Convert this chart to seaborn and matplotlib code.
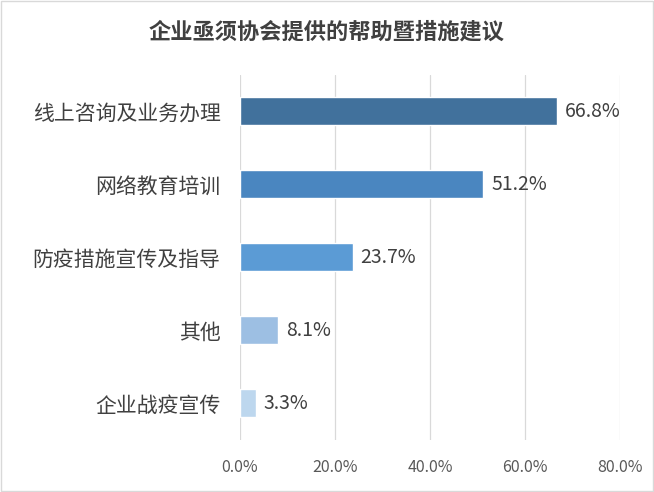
import matplotlib
matplotlib.use("Agg")
import matplotlib.pyplot as plt
import seaborn as sns
import pandas as pd

categories = ["线上咨询及业务办理", "网络教育培训", "防疫措施宣传及指导", "其他", "企业战疫宣传"]
values = [66.8, 51.2, 23.7, 8.1, 3.3]
colors = ["#41719C", "#4A86C0", "#5B9BD5", "#9DBFE3", "#BDD7EE"]
ticks = [0, 20, 40, 60, 80]

sns.set_theme(style="white")
plt.rcParams["font.family"] = ["Noto Sans CJK SC", "DejaVu Sans"]

df = pd.DataFrame({"cat": categories, "val": values})
fig = plt.figure(figsize=(6.54, 4.92), dpi=100)
ax = fig.add_axes([0.367, 0.106, 0.581, 0.742])
sns.barplot(data=df, x="val", y="cat", hue="cat", palette=colors, legend=False,
            width=0.38, saturation=1, ax=ax, zorder=2)

ax.set_xlim(0, 80)
ax.set_xticks(ticks)
ax.set_xticklabels([f"{t:.1f}%" for t in ticks], fontsize=11.5, color="#595959")
ax.tick_params(axis="y", labelsize=15, colors="#404040", length=0, pad=14)
ax.tick_params(axis="x", length=0, pad=14)
ax.grid(axis="x", color="#D9D9D9", lw=0.9, zorder=0)
for s in ax.spines.values():
    s.set_visible(False)
ax.set_xlabel("")
ax.set_ylabel("")

for i, v in enumerate(values):
    ax.text(v + 1.7, i, f"{v}%", va="center", ha="left", fontsize=14, color="#404040")

fig.text(0.5, 0.935, "企业亟须协会提供的帮助暨措施建议", ha="center", va="center",
         fontsize=16, fontweight="bold", color="#404040")
fig.patches.append(plt.Rectangle((0.002, 0.002), 0.996, 0.996, transform=fig.transFigure,
                                 fill=False, edgecolor="#D9D9D9", lw=1))
fig.savefig("out.png", dpi=100)
